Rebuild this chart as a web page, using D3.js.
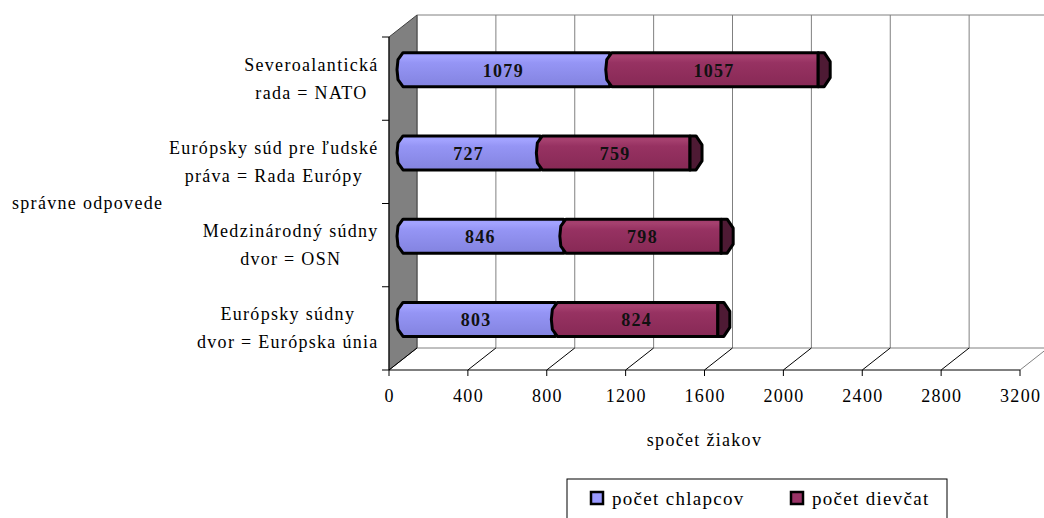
<!DOCTYPE html>
<html><head><meta charset="utf-8">
<script src="https://cdn.jsdelivr.net/npm/d3@7"></script>
<style>body{margin:0;background:#fff}svg{display:block}</style>
</head><body><svg id="c" width="1044" height="518"></svg>
<script>
const categories = [
  ["Severoalantická","rada = NATO"],
  ["Európsky súd pre ľudské","práva = Rada Európy"],
  ["Medzinárodný súdny","dvor = OSN"],
  ["Európsky súdny","dvor = Európska únia"]
];
const seriesNames = ["počet chlapcov","počet dievčat"];
const boys  = [1079, 727, 846, 803];
const girls = [1057, 759, 798, 824];
const xTicks = [0,400,800,1200,1600,2000,2400,2800,3200];
const xTitle = "spočet žiakov";
const yTitle = "správne odpovede";

const FONT = "Liberation Serif, Times New Roman, serif";
const LS = 1.3;
const svg = d3.select("#c");
function txt(sel, s, size, anchor){
  return sel.append("text").attr("font-family",FONT).attr("font-size",size).attr("letter-spacing",LS)
    .attr("text-anchor",anchor||"start").attr("fill","#000").text(s);
}
const x = d3.scaleLinear().domain([0,3200]).range([389,1020]);
const y = d3.scaleBand().domain(categories.map((d,i)=>i)).range([37,370]).padding(0);
const DX = 28, DY = -22;
const yBot = 370, yTop = 37;

const defs = svg.append("defs");
function grad(id, stops){
  const g = defs.append("linearGradient").attr("id",id).attr("x1",0).attr("y1",0).attr("x2",0).attr("y2",1);
  stops.forEach(s=>g.append("stop").attr("offset",s[0]).attr("stop-color",s[1]));
}
grad("gb",[[0,"#9d9dff"],[0.12,"#a3a3ff"],[0.3,"#9595f5"],[1,"#8383e0"]]);
grad("gm",[[0,"#a13a6c"],[0.12,"#a6416f"],[0.3,"#973262"],[1,"#872955"]]);

// back wall gridlines
const g0 = svg.append("g");
g0.append("line").attr("x1",x(0)+DX).attr("x2",1044).attr("y1",yTop+DY).attr("y2",yTop+DY).attr("stroke","#808080");
g0.append("line").attr("x1",x(0)+DX).attr("x2",1044).attr("y1",yBot+DY).attr("y2",yBot+DY).attr("stroke","#808080");
xTicks.forEach(t=>{
  g0.append("line").attr("x1",x(t)+DX).attr("x2",x(t)+DX).attr("y1",yTop+DY).attr("y2",yBot+DY).attr("stroke","#808080");
});
// side wall
svg.append("path").attr("d",`M${x(0)},${yTop} L${x(0)+DX},${yTop+DY} L${x(0)+DX},${yBot+DY} L${x(0)},${yBot} Z`)
  .attr("fill","#808080").attr("stroke","#404040").attr("stroke-width",1);
// floor lines
xTicks.forEach(t=>{
  svg.append("line").attr("x1",x(t)).attr("y1",yBot).attr("x2",x(t)+DX).attr("y2",yBot+DY)
    .attr("stroke", t===3200?"#808080":"#000");
});
// axes
svg.append("line").attr("x1",x(0)).attr("x2",x(3200)).attr("y1",yBot).attr("y2",yBot).attr("stroke","#000");
svg.append("line").attr("x1",x(0)).attr("x2",x(0)).attr("y1",yTop).attr("y2",yBot).attr("stroke","#000");
xTicks.forEach(t=>{
  svg.append("line").attr("x1",x(t)).attr("x2",x(t)).attr("y1",yBot).attr("y2",yBot+6).attr("stroke","#000");
  txt(svg, t, 18, "middle").attr("x",x(t)+LS/2).attr("y",yBot+32);
});
[yTop, ...categories.map((d,i)=>y(i)+y.bandwidth())].forEach(v=>{
  svg.append("line").attr("x1",x(0)-7).attr("x2",x(0)).attr("y1",v).attr("y2",v).attr("stroke","#000");
});

// category labels
categories.forEach((lines,i)=>{
  const cy = y(i)+y.bandwidth()/2;
  const g = svg.append("g");
  const ts = lines.map((l,k)=>txt(g, l, 18, "middle").attr("y",cy + (k===0?-14:14) + 6));
  const w = d3.max(ts.map(t=>t.node().getComputedTextLength()));
  ts.forEach(t=>t.attr("x",378 - w/2 + LS/2));
});
txt(svg, yTitle, 18).attr("x",12).attr("y",209);
txt(svg, xTitle, 18, "middle").attr("x",(x(0)+x(3200))/2).attr("y",446);

// bars
const OX = 8, OY = -9, BH = 34;
function segPath(x0,x1,t,b){
  const m=(t+b)/2;
  return `M${x0+6},${t} L${x1},${t} L${x1},${b} L${x0+6},${b} L${x0+1},${b-7} L${x0},${m} L${x0+1},${t+7} Z`;
}
categories.forEach((d,i)=>{
  const cy = y(i)+y.bandwidth()/2 + OY;
  const t = cy-BH/2, b = cy+BH/2;
  const xb0 = x(0)+OX, xb1 = x(boys[i])+OX, xg1 = x(boys[i]+girls[i])+OX;
  const g = svg.append("g");
  g.append("path").attr("d",segPath(xb0,xb1,t,b)).attr("fill","url(#gb)").attr("stroke","#000").attr("stroke-width",3).attr("stroke-linejoin","round");
  g.append("path").attr("d",segPath(xb1-4,xg1,t,b)).attr("fill","url(#gm)").attr("stroke","#000").attr("stroke-width",3).attr("stroke-linejoin","round");
  g.append("path").attr("d",`M${xg1},${t} L${xg1+6},${t} L${xg1+12},${t+9} L${xg1+12},${b-9} L${xg1+6},${b} L${xg1},${b} Z`)
    .attr("fill","#4e1a34").attr("stroke","#000").attr("stroke-width",3).attr("stroke-linejoin","round");
  txt(g, boys[i], 18, "middle").attr("x",(xb0+xb1)/2).attr("y",cy+7).attr("font-weight","bold").attr("fill","#111");
  txt(g, girls[i], 18, "middle").attr("x",(xb1+xg1)/2).attr("y",cy+7).attr("font-weight","bold").attr("fill","#111");
});

// legend
const lg = svg.append("g");
lg.append("rect").attr("x",567).attr("y",479).attr("width",380).attr("height",45).attr("fill","#fff").attr("stroke","#000");
[["#9999ff",591,612],["#993366",791,812]].forEach((c,k)=>{
  lg.append("rect").attr("x",c[1]).attr("y",492).attr("width",12).attr("height",12).attr("fill",c[0]).attr("stroke","#000").attr("stroke-width",2.5);
  txt(lg, seriesNames[k], 19).attr("x",c[2]).attr("y",505);
});
</script></body></html>
